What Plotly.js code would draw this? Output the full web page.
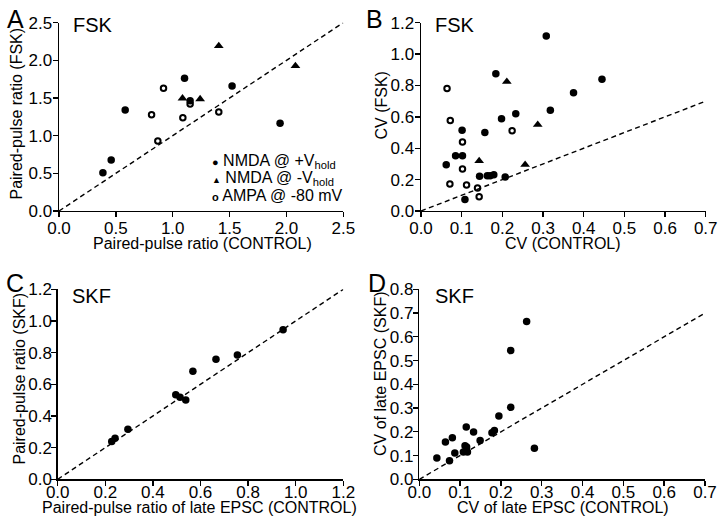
<!DOCTYPE html>
<html>
<head>
<meta charset="utf-8">
<script src="https://cdn.plot.ly/plotly-3.0.1.min.js"></script>
<style>html,body{margin:0;padding:0;background:#fff;}#chart{width:720px;height:525px;}</style>
</head>
<body>
<div id="chart"></div>
<script>
// ---- Panel A: paired-pulse ratio, FSK vs control ----
const aNmdaPosX = [0.386, 0.459, 0.582, 1.104, 1.153, 1.522, 1.944];
const aNmdaPosY = [0.509, 0.677, 1.341, 1.762, 1.465, 1.660, 1.165];
const aNmdaNegX = [1.086, 1.241, 1.405, 2.079];
const aNmdaNegY = [1.497, 1.487, 2.191, 1.926];
const aAmpaX = [0.919, 0.814, 0.869, 1.089, 1.153, 1.405];
const aAmpaY = [1.629, 1.279, 0.930, 1.239, 1.421, 1.315];
// ---- Panel B: CV, FSK vs control ----
const bNmdaPosX = [0.308, 0.184, 0.445, 0.375, 0.318, 0.233, 0.198, 0.101, 0.157, 0.085, 0.102, 0.062, 0.144, 0.163, 0.170, 0.179, 0.207, 0.108];
const bNmdaPosY = [1.115, 0.875, 0.839, 0.754, 0.642, 0.620, 0.588, 0.514, 0.501, 0.352, 0.352, 0.295, 0.221, 0.225, 0.225, 0.231, 0.217, 0.074];
const bNmdaNegX = [0.211, 0.287, 0.143, 0.256];
const bNmdaNegY = [0.824, 0.550, 0.319, 0.295];
const bAmpaX = [0.064, 0.072, 0.102, 0.224, 0.102, 0.071, 0.112, 0.139, 0.143];
const bAmpaY = [0.780, 0.576, 0.440, 0.512, 0.268, 0.172, 0.166, 0.147, 0.091];
// ---- Panel C: paired-pulse ratio of late EPSC, SKF vs control ----
const cX = [0.227, 0.241, 0.295, 0.496, 0.514, 0.538, 0.568, 0.665, 0.755, 0.947];
const cY = [0.238, 0.259, 0.316, 0.534, 0.518, 0.501, 0.682, 0.758, 0.785, 0.945];
// ---- Panel D: CV of late EPSC, SKF vs control ----
const dX = [0.263, 0.224, 0.224, 0.195, 0.282, 0.115, 0.133, 0.149, 0.178, 0.184, 0.081, 0.064, 0.043, 0.074, 0.087, 0.112, 0.116, 0.108, 0.118];
const dY = [0.664, 0.542, 0.303, 0.267, 0.131, 0.220, 0.199, 0.163, 0.196, 0.205, 0.175, 0.157, 0.090, 0.078, 0.111, 0.141, 0.136, 0.115, 0.115];
// identity lines (unity)
const unityA = [0, 2.5];
const unityB = [0, 0.7];
const unityC = [0, 1.2];
const unityD = [0, 0.7];
// labels
const panelLetters = ['A', 'B', 'C', 'D'];
const panelTags = ['FSK', 'FSK', 'SKF', 'SKF'];
const xTitles = ['Paired-pulse ratio (CONTROL)', 'CV (CONTROL)', 'Paired-pulse ratio of late EPSC (CONTROL)', 'CV of late EPSC (CONTROL)'];
const yTitles = ['Paired-pulse ratio (FSK)', 'CV (FSK)', 'Paired-pulse ratio (SKF)', 'CV of late EPSC (SKF)'];
const legendLabels = ['NMDA @ +V<sub>hold</sub>', 'NMDA @ -V<sub>hold</sub>', 'AMPA @ -80 mV'];

const FONT = 'Liberation Sans, Arial, Helvetica, sans-serif';
const filled = {symbol: 'circle', size: 7.5, color: 'black'};
const tri = {symbol: 'triangle-up', size: 8.5, color: 'black'};
const open = {symbol: 'circle-open', size: 5.5, color: 'black', line: {width: 2, color: 'black'}};
const dashLine = {color: 'black', width: 1.4, dash: '5px,3.5px'};

function pts(x, y, marker, xa, ya) {
  return {type: 'scatter', mode: 'markers', x: x, y: y, marker: marker, xaxis: xa, yaxis: ya, showlegend: false, cliponaxis: false, hoverinfo: 'skip'};
}
function unity(v, xa, ya) {
  return {type: 'scatter', mode: 'lines', x: v, y: v, line: dashLine, xaxis: xa, yaxis: ya, showlegend: false, hoverinfo: 'skip'};
}

const traces = [
  unity(unityA, 'x', 'y'),
  pts(aNmdaPosX, aNmdaPosY, filled, 'x', 'y'),
  pts(aNmdaNegX, aNmdaNegY, tri, 'x', 'y'),
  pts(aAmpaX, aAmpaY, open, 'x', 'y'),
  unity(unityB, 'x2', 'y2'),
  pts(bNmdaPosX, bNmdaPosY, filled, 'x2', 'y2'),
  pts(bNmdaNegX, bNmdaNegY, tri, 'x2', 'y2'),
  pts(bAmpaX, bAmpaY, open, 'x2', 'y2'),
  unity(unityC, 'x3', 'y3'),
  pts(cX, cY, filled, 'x3', 'y3'),
  unity(unityD, 'x4', 'y4'),
  pts(dX, dY, filled, 'x4', 'y4')
];

function ax(range, dtick, domain, anchor, labelShift) {
  return {
    range: range, dtick: dtick, tick0: 0, domain: domain, anchor: anchor,
    showline: true, linecolor: 'black', linewidth: 1.4,
    ticks: 'outside', ticklen: 5, tickwidth: 1.4, tickcolor: 'black',
    showgrid: false, zeroline: false, tickformat: '.1f',
    tickfont: {size: 17, color: 'black', family: FONT},
    ticklabelstandoff: labelShift,
    fixedrange: true
  };
}

const W = 720, H = 525;
const xdA = [59 / W, 343.3 / W], xdB = [421 / W, 705.7 / W];
const xdC = [57.7 / W, 343.3 / W], xdD = [419.3 / W, 705 / W];
const ydTop = [1 - 211 / H, 1 - 22.7 / H], ydBot = [1 - 479.3 / H, 1 - 289.3 / H];
const xTitlePos = [[202, 243.5], [562.5, 243.5], [199, 507.5], [562.5, 507.5]];
const yTitlePos = [[16.5, 114], [380.5, 106], [18.5, 379], [380, 374]];

const annotations = [];
const letterPos = [[5, 19], [364, 19], [4, 283], [366, 283]];
const tagPos = [[71, 25], [433, 25], [70, 296], [433, 296]];
for (let i = 0; i < 4; i++) {
  annotations.push({xref: 'paper', yref: 'paper', x: letterPos[i][0] / W, y: 1 - letterPos[i][1] / H,
    xanchor: 'left', yanchor: 'middle', showarrow: false, text: panelLetters[i],
    font: {size: 25, color: 'black', family: FONT}});
  annotations.push({xref: 'paper', yref: 'paper', x: tagPos[i][0] / W, y: 1 - tagPos[i][1] / H,
    xanchor: 'left', yanchor: 'middle', showarrow: false, text: panelTags[i],
    font: {size: 20, color: 'black', family: FONT}});
  // axis titles
  annotations.push({xref: 'paper', yref: 'paper', x: xTitlePos[i][0] / W, y: 1 - xTitlePos[i][1] / H,
    xanchor: 'center', yanchor: 'middle', showarrow: false, text: xTitles[i],
    font: {size: 16, color: 'black', family: FONT}});
  annotations.push({xref: 'paper', yref: 'paper', x: yTitlePos[i][0] / W, y: 1 - yTitlePos[i][1] / H,
    xanchor: 'center', yanchor: 'middle', showarrow: false, text: yTitles[i], textangle: -90,
    font: {size: 16, color: 'black', family: FONT}});
}
const legendSyms = ['<span style="font-size:11px">●</span>', '<span style="font-size:9px">▲</span>', '<span style="font-size:11px"><b>o</b></span>'];
const legendRowY = [162, 179, 196];
for (let i = 0; i < 3; i++) {
  annotations.push({xref: 'paper', yref: 'paper', x: 210 / W, y: 1 - legendRowY[i] / H,
    xanchor: 'left', yanchor: 'middle', showarrow: false,
    text: legendSyms[i] + ' ' + legendLabels[i],
    font: {size: 16, color: 'black', family: FONT}});
}

const layout = {
  width: W, height: H,
  margin: {l: 0, r: 0, t: 0, b: 0},
  paper_bgcolor: 'white', plot_bgcolor: 'white',
  font: {family: FONT, color: 'black'},
  showlegend: false,
  xaxis: ax([0, 2.5], 0.5, xdA, 'y', -4),
  yaxis: ax([0, 2.5], 0.5, ydTop, 'x', -3),
  xaxis2: ax([0, 0.7], 0.1, xdB, 'y2', -4),
  yaxis2: ax([0, 1.2], 0.2, ydTop, 'x2', -3),
  xaxis3: ax([0, 1.2], 0.2, xdC, 'y3', -8),
  yaxis3: ax([0, 1.2], 0.2, ydBot, 'x3', -4),
  xaxis4: ax([0, 0.7], 0.1, xdD, 'y4', -8),
  yaxis4: ax([0, 0.8], 0.1, ydBot, 'x4', -4),
  annotations: annotations
};

Plotly.newPlot('chart', traces, layout, {displayModeBar: false, staticPlot: true});
</script>
</body>
</html>
